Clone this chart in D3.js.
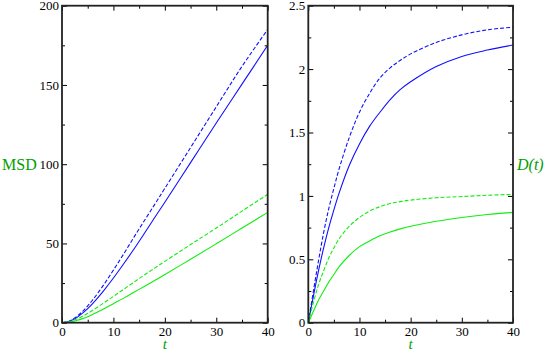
<!DOCTYPE html>
<html>
<head>
    <script type="text/javascript" src="https://d3js.org/d3.v7.min.js"></script>
    <style>
        body { margin: 0; background: white; }
        text { font-family: "Liberation Serif", "DejaVu Serif", serif; }
    </style>
</head>
<body>
    <div id="chart"></div>
    <script type="text/javascript">
        // time points
        const times = [0, 1, 2, 3, 4, 5, 6, 8, 10, 12, 14, 16, 18, 20, 25, 30, 35, 40];

        // MSD curves (left panel)
        const msdBlueSolid  = [0, 0.42, 1.64, 3.54, 6, 8.9, 12.2, 19.8, 28.2, 37.2, 46.5, 56.3, 66.2, 76, 101, 126, 150.5, 175];
        const msdBlueDash   = [0, 0.5, 1.96, 4.26, 7.2, 10.6, 14.5, 23.4, 33.2, 43.4, 54, 64.3, 74.5, 84.8, 110.5, 136.2, 161.7, 185];
        const msdGreenSolid = [0, 0.18, 0.72, 1.5, 2.56, 3.8, 5.3, 8.5, 12, 15.5, 19.2, 22.9, 26.6, 30.4, 40, 49.8, 59.7, 69.6];
        const msdGreenDash  = [0, 0.32, 1.2, 2.46, 4.08, 5.9, 7.9, 12.2, 16.6, 21.1, 25.6, 30.1, 34.4, 38.7, 49.3, 59.7, 70.4, 81];

        // D(t) curves (right panel)
        const dBlueSolid  = [0, 0.21, 0.41, 0.59, 0.75, 0.89, 1.02, 1.24, 1.41, 1.55, 1.66, 1.76, 1.84, 1.9, 2.02, 2.1, 2.15, 2.19];
        const dBlueDash   = [0, 0.25, 0.49, 0.71, 0.9, 1.06, 1.21, 1.46, 1.66, 1.81, 1.93, 2.01, 2.07, 2.12, 2.21, 2.27, 2.31, 2.33];
        const dGreenSolid = [0, 0.09, 0.18, 0.25, 0.32, 0.38, 0.44, 0.53, 0.6, 0.645, 0.685, 0.715, 0.74, 0.76, 0.8, 0.83, 0.853, 0.87];
        const dGreenDash  = [0, 0.16, 0.3, 0.41, 0.51, 0.59, 0.66, 0.76, 0.83, 0.88, 0.915, 0.94, 0.955, 0.967, 0.985, 0.995, 1.005, 1.012];

        const xTicks = [0, 10, 20, 30, 40];
        const xMinor = [5, 15, 25, 35];
        const msdTicks = [0, 50, 100, 150, 200];
        const msdMinor = [25, 75, 125, 175];
        const dTicks = [0, 0.5, 1, 1.5, 2, 2.5];
        const dMinor = [0.25, 0.75, 1.25, 1.75, 2.25];

        const blue = "#1010ff";
        const green = "#10ee10";
        const labelGreen = "#00a000";
        const serif = "'Liberation Serif', 'DejaVu Serif', serif";

        const svg = d3.select("#chart").append("svg")
            .attr("width", 545)
            .attr("height", 351);

        const yTop = 5.7, yBot = 322.7;

        const drawPanel = (x0, x1, yMax, yTicks, yMinor, series, name) => {
            const x = d3.scaleLinear().domain([0, 40]).range([x0, x1]);
            const y = d3.scaleLinear().domain([0, yMax]).range([yBot, yTop]);

            svg.append("clipPath").attr("id", "clip" + name)
                .append("rect")
                .attr("x", x0).attr("y", yTop)
                .attr("width", x1 - x0).attr("height", yBot - yTop);

            const line = d3.line()
                .x((d, i) => x(times[i]))
                .y(d => y(d))
                .curve(d3.curveCatmullRom.alpha(0.5));

            svg.append("g").attr("clip-path", "url(#clip" + name + ")")
                .selectAll("path")
                .data(series)
                .enter()
                .append("path")
                .attr("d", d => line(d.values))
                .attr("fill", "none")
                .attr("stroke", d => d.color)
                .attr("stroke-width", 1.1)
                .attr("stroke-dasharray", d => d.dash ? "4,2" : null);

            const styleAxis = g => {
                g.attr("font-family", serif).attr("font-size", 13);
                g.select(".domain").remove();
                g.selectAll("line").attr("stroke", "#000").attr("stroke-width", 1);
                g.selectAll("text").attr("fill", "#000");
            };

            // bottom
            svg.append("g").attr("transform", `translate(0,${yBot})`)
                .call(d3.axisBottom(x).tickValues(xTicks).tickSize(-5).tickSizeOuter(0).tickPadding(4))
                .call(styleAxis);
            svg.append("g").attr("transform", `translate(0,${yBot})`)
                .call(d3.axisBottom(x).tickValues(xMinor).tickSize(-3).tickFormat(""))
                .call(styleAxis);
            // top
            svg.append("g").attr("transform", `translate(0,${yTop})`)
                .call(d3.axisTop(x).tickValues(xTicks).tickSize(-5).tickFormat(""))
                .call(styleAxis);
            svg.append("g").attr("transform", `translate(0,${yTop})`)
                .call(d3.axisTop(x).tickValues(xMinor).tickSize(-3).tickFormat(""))
                .call(styleAxis);
            // left
            svg.append("g").attr("transform", `translate(${x0},0)`)
                .call(d3.axisLeft(y).tickValues(yTicks).tickSize(-5).tickPadding(3).tickFormat(d3.format("")))
                .call(styleAxis);
            svg.append("g").attr("transform", `translate(${x0},0)`)
                .call(d3.axisLeft(y).tickValues(yMinor).tickSize(-3).tickFormat(""))
                .call(styleAxis);
            // right
            svg.append("g").attr("transform", `translate(${x1},0)`)
                .call(d3.axisRight(y).tickValues(yTicks).tickSize(-5).tickFormat(""))
                .call(styleAxis);
            svg.append("g").attr("transform", `translate(${x1},0)`)
                .call(d3.axisRight(y).tickValues(yMinor).tickSize(-3).tickFormat(""))
                .call(styleAxis);

            svg.append("rect")
                .attr("x", x0).attr("y", yTop)
                .attr("width", x1 - x0).attr("height", yBot - yTop)
                .attr("fill", "none")
                .attr("stroke", "#222")
                .attr("stroke-width", 1.8);

            svg.append("text")
                .attr("x", x(20)).attr("y", 349)
                .attr("text-anchor", "middle")
                .attr("fill", labelGreen)
                .attr("font-family", serif)
                .attr("font-size", 15)
                .attr("font-style", "italic")
                .text("t");
        };

        drawPanel(62, 267.7, 200, msdTicks, msdMinor, [
            {values: msdBlueDash, color: blue, dash: true},
            {values: msdBlueSolid, color: blue, dash: false},
            {values: msdGreenDash, color: green, dash: true},
            {values: msdGreenSolid, color: green, dash: false}
        ], "L");

        drawPanel(308.3, 513, 2.5, dTicks, dMinor, [
            {values: dBlueDash, color: blue, dash: true},
            {values: dBlueSolid, color: blue, dash: false},
            {values: dGreenDash, color: green, dash: true},
            {values: dGreenSolid, color: green, dash: false}
        ], "R");

        svg.append("text")
            .attr("x", 2).attr("y", 170)
            .attr("fill", labelGreen)
            .attr("font-family", serif)
            .attr("font-size", 16)
            .text("MSD");

        svg.append("text")
            .attr("x", 517).attr("y", 170)
            .attr("fill", labelGreen)
            .attr("font-family", serif)
            .attr("font-size", 16)
            .attr("font-style", "italic")
            .text("D(t)");
    </script>
</body>
</html>
